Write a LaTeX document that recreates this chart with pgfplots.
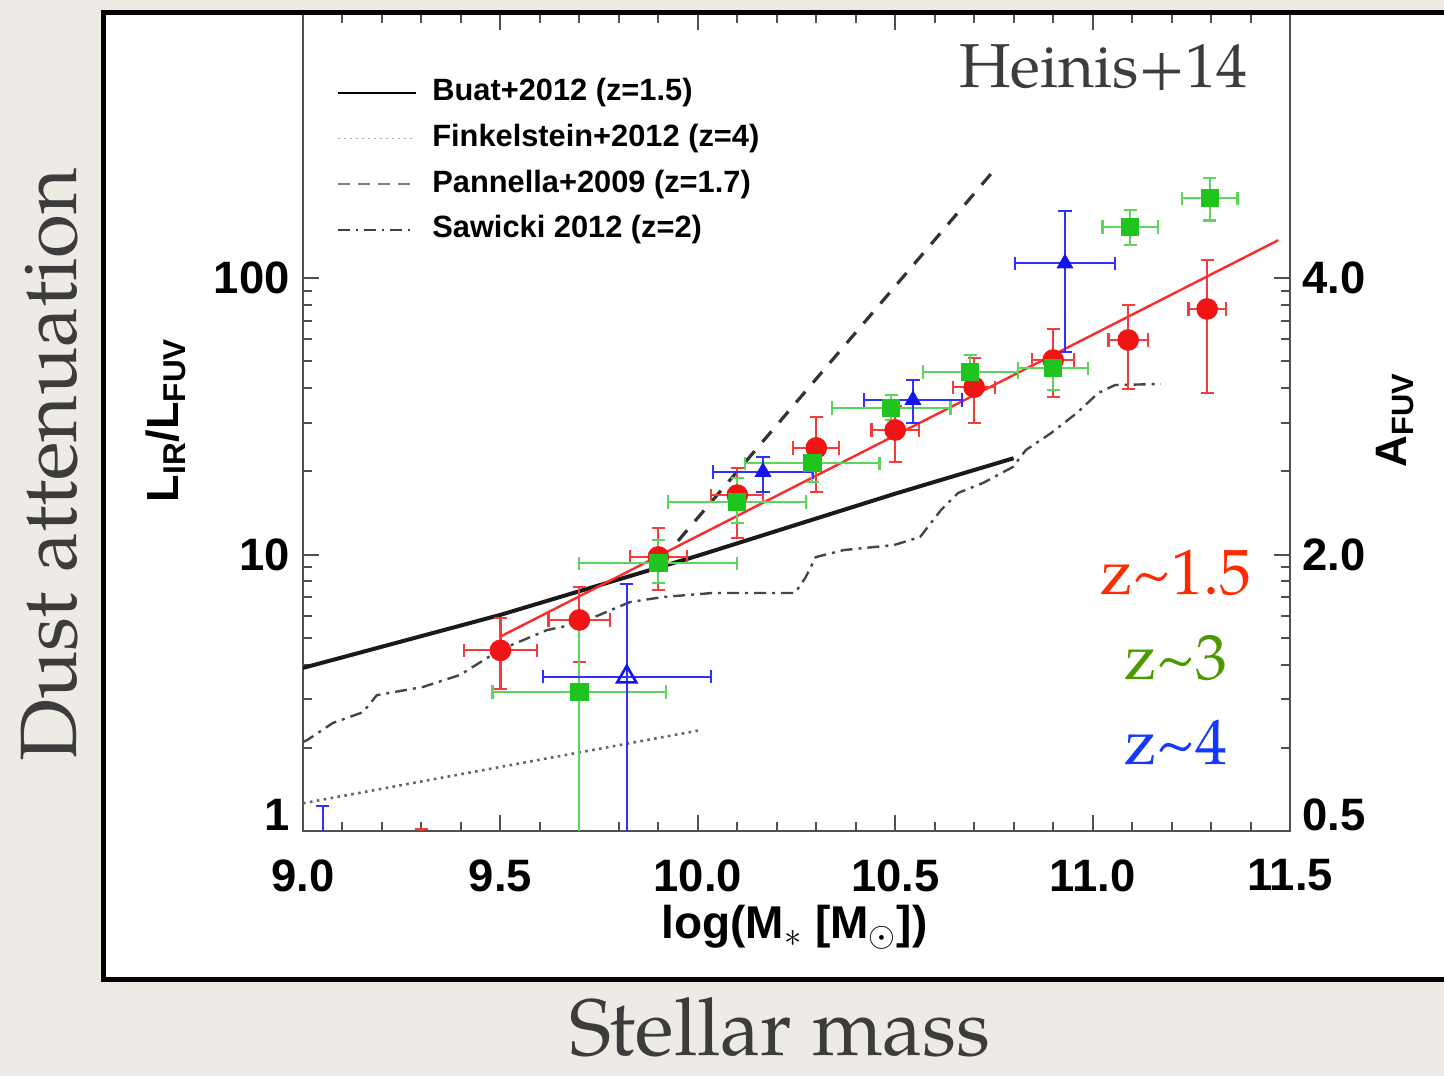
\documentclass[border=0pt]{standalone}
\usepackage{pgfplots}
\usepackage{pgfplotstable}
\pgfplotsset{compat=1.18}
\usepackage{fontspec}
\setmainfont{TeX Gyre Pagella}
\newfontfamily\hv{Liberation Sans}

\definecolor{bgc}{HTML}{EEEBE6}
\definecolor{axc}{HTML}{505050}
\definecolor{rpt}{HTML}{F01414}
\definecolor{rbar}{HTML}{F43C3C}
\definecolor{gpt}{HTML}{1FC41F}
\definecolor{gbar}{HTML}{5AD65A}
\definecolor{bpt}{HTML}{1414F0}
\definecolor{bbar}{HTML}{3030FF}
\definecolor{zred}{HTML}{FF2A00}
\definecolor{zgreen}{HTML}{4C9A00}
\definecolor{zblue}{HTML}{1438FF}
\definecolor{txt}{HTML}{3C3C3C}

% z~1.5 sample: x, y, x error, y error plus, y error minus
\pgfplotstableread{
x     y     ex     ep     em
9.50  4.50  0.093  1.40   1.24
9.70  5.80  0.078  1.83   1.72
9.90  9.80  0.072  2.70   2.36
10.10 16.4  0.066  4.10   4.90
10.30 24.3  0.058  7.10   7.50
10.50 28.2  0.060  6.20   6.60
10.70 40.3  0.053  11.1   10.4
10.90 50.5  0.053  14.9   13.4
11.09 59.7  0.050  20.1   20.0
11.29 77.3  0.047  38.7   38.9
}\redtab
% z~1.5 bin lying below the plotted range (only its upper bar reaches in)
\pgfplotstableread{
x     y     ex     ep     em
9.30  0.60  0.000  0.42   0.10
}\redlow

% z~3 sample
\pgfplotstableread{
x      y      ex     ep     em
9.90   9.31   0.200  2.00   1.42
10.10  15.5   0.175  3.40   2.50
10.29  21.4   0.170  3.50   3.10
10.49  33.9   0.150  3.80   3.20
10.69  45.7   0.120  7.00   6.40
10.90  47.2   0.088  6.80   7.90
11.095 152.9  0.070  23.0   21.0
11.297 194.6  0.070  35.0   33.0
}\greentab
% z~3 bin whose lower bar runs off the bottom
\pgfplotstableread{
x      y      ex     ep     em
9.70   3.18   0.220  3.02   2.78
}\greenlow

% z~4 sample (filled triangles)
\pgfplotstableread{
x      y      ex     ep     em
10.165 19.9   0.127  2.60   3.10
10.545 36.2   0.125  6.60   6.30
10.93  113.0  0.127  62.0   59.0
}\bluetab
% z~4 bin below the plotted range
\pgfplotstableread{
x      y      ex     ep     em
9.05   0.60   0.000  0.63   0.10
}\bluelow
% z~4 open triangle
\pgfplotstableread{
x      y      ex     ep     em
9.82   3.61   0.213  4.21   3.30
}\blueopen

\pgfplotsset{
  ebars/.style={only marks,
    error bars/.cd, x dir=both, x explicit, y dir=both, y explicit,
    error bar style={#1, line width=1.1pt},
    error mark options={rotate=90, #1, mark size=3.3pt, line width=1.1pt}},
  ebarsup/.style={only marks,
    error bars/.cd, x dir=both, x explicit, y dir=plus, y explicit,
    error bar style={#1, line width=1.1pt},
    error mark options={rotate=90, #1, mark size=3.3pt, line width=1.1pt}},
  capup/.style={mark=none,
    error bars/.cd, y dir=plus, y explicit,
    error bar style={#1, line width=1.1pt},
    error mark options={rotate=90, #1, mark size=3.3pt, line width=1.1pt}},
  whisker/.style={mark=none,
    error bars/.cd, y dir=minus, y explicit, error mark=none,
    error bar style={#1, line width=1.1pt}},
}

\begin{document}
\begin{tikzpicture}
\path[use as bounding box] (0,0) rectangle (722pt,538pt);
\begin{scope}[x=0.5pt,y=-0.5pt,yshift=538pt]
  \fill[bgc] (0,0) rectangle (1444,1076);
  \fill[white] (103.5,12.5) rectangle (1470,979.5);
\end{scope}

\begin{axis}[
  at={(151.5pt,122.5pt)}, anchor=south west,
  scale only axis, width=493.5pt, height=408.4pt,
  xmin=9, xmax=11.5, ymin=1, ymax=900, ymode=log,
  xtick={9,9.5,10,10.5,11,11.5},
  xticklabels={9.0,9.5,10.0,10.5,11.0,11.5},
  minor x tick num=4,
  ytick={1,10,100},
  yticklabels={\raisebox{\height}{1},10,100},
  tick align=inside,
  major tick length=8pt, minor tick length=4.5pt,
  every tick/.style={color=axc, line width=1pt},
  axis line style={color=axc, line width=1.1pt},
  ticklabel style={font=\hv\bfseries\fontsize{22.7}{24}\selectfont, text=black},
  xticklabel style={anchor=north, inner sep=0pt, yshift=-14pt},
  yticklabel style={anchor=east, inner sep=0pt, xshift=-6.5pt},
  xlabel={log(M\textsubscript{$\ast$} [M\textsubscript{$\odot$}])},
  ylabel={L\textsubscript{IR}/L\textsubscript{FUV}},
  every axis x label/.style={at={(axis description cs:0.498,-0.118)}, anchor=center,
    font=\hv\bfseries\fontsize{23}{25}\selectfont},
  every axis y label/.style={at={(axis description cs:-0.1388,0.503)}, anchor=center,
    rotate=90, font=\hv\bfseries\fontsize{22.5}{25}\selectfont},
  legend style={at={(rel axis cs:0.0344,0.922)}, anchor=north west,
    draw=none, fill=none, inner sep=0pt, column sep=7.5pt, row sep=8.1pt,
    font=\hv\bfseries\fontsize{15.4}{17}\selectfont,
    nodes={inner sep=0pt, text height=11.3pt, text depth=3.4pt}},
  legend cell align=left,
  legend image code/.code={\draw[#1] (0pt,0pt) -- (39pt,0pt);},
]
% legend samples
\addlegendimage{black, line width=1pt}
\addlegendentry{Buat+2012 (z=1.5)}
\addlegendimage{gray!70, line width=0.8pt, dash pattern=on 1pt off 2pt}
\addlegendentry{Finkelstein+2012 (z=4)}
\addlegendimage{gray, line width=0.8pt, dash pattern=on 6pt off 4pt}
\addlegendentry{Pannella+2009 (z=1.7)}
\addlegendimage{darkgray, line width=0.8pt, dash pattern=on 6pt off 3pt on 1pt off 3pt}
\addlegendentry{Sawicki 2012 (z=2)}

% literature relations
\addplot[forget plot, color={rgb,255:red,26;green,26;blue,26}, line width=2pt]
  coordinates {(9.0,3.89) (9.5,6.05) (10.0,9.9) (10.5,16.6) (10.8,22.3)};
\addplot[forget plot, color={rgb,255:red,100;green,100;blue,100}, line width=1.3pt,
  dash pattern=on 1.3pt off 2.2pt]
  coordinates {(9.0,1.26) (10.01,2.32)};
\addplot[forget plot, color={rgb,255:red,51;green,51;blue,51}, line width=1.6pt,
  dash pattern=on 7pt off 6pt]
  coordinates {(9.95,11.2) (10.75,245)};
\addplot[forget plot, color={rgb,255:red,70;green,70;blue,70}, line width=1.2pt,
  dash pattern=on 6pt off 3pt on 1.5pt off 3pt]
  coordinates {
  (9.000,2.10) (9.010,2.13) (9.076,2.46) (9.152,2.69) (9.187,3.10)
  (9.304,3.32) (9.398,3.67) (9.499,4.52) (9.618,5.33) (9.702,5.65)
  (9.828,6.73) (9.912,7.02) (10.038,7.26) (10.246,7.26) (10.272,8.22)
  (10.299,9.79) (10.370,10.38) (10.497,10.82) (10.563,11.57) (10.616,14.49)
  (10.659,16.69) (10.722,18.14) (10.798,20.73) (10.831,23.88) (10.895,27.50)
  (10.960,32.50) (11.014,38.38) (11.057,41.03) (11.173,41.37)};

% z~1.5 fit
\addplot[forget plot, color={rgb,255:red,255;green,42;blue,42}, line width=1.2pt]
  coordinates {(9.5,5.05) (11.47,137)};

% measurements
\addplot[forget plot, capup=rbar] table[x=x, y=y,
    y error plus=ep, y error minus=em] {\redlow};
\addplot[forget plot, mark=*, mark size=5.2pt, mark options={draw=rpt, fill=rpt},
  ebars=rbar] table[x=x, y=y, x error plus=ex, x error minus=ex,
    y error plus=ep, y error minus=em] {\redtab};

\addplot[forget plot, whisker=gbar] table[x=x, y=y,
    y error plus=ep, y error minus=em] {\greenlow};
\addplot[forget plot, mark=square*, mark size=4.3pt, mark options={draw=gpt, fill=gpt},
  ebarsup=gbar] table[x=x, y=y, x error plus=ex, x error minus=ex,
    y error plus=ep, y error minus=em] {\greenlow};
\addplot[forget plot, mark=square*, mark size=4.3pt, mark options={draw=gpt, fill=gpt},
  ebars=gbar] table[x=x, y=y, x error plus=ex, x error minus=ex,
    y error plus=ep, y error minus=em] {\greentab};

\addplot[forget plot, capup=bbar] table[x=x, y=y,
    y error plus=ep, y error minus=em] {\bluelow};
\addplot[forget plot, whisker=bbar] table[x=x, y=y,
    y error plus=ep, y error minus=em] {\blueopen};
\addplot[forget plot, mark=triangle, mark size=5.5pt,
  mark options={draw=bpt, fill=white, line width=1.3pt},
  ebarsup=bbar] table[x=x, y=y, x error plus=ex, x error minus=ex,
    y error plus=ep, y error minus=em] {\blueopen};
\addplot[forget plot, mark=triangle*, mark size=4.5pt, mark options={draw=bpt, fill=bpt},
  ebars=bbar] table[x=x, y=y, x error plus=ex, x error minus=ex,
    y error plus=ep, y error minus=em] {\bluetab};
\end{axis}

% right-hand A_FUV scale
\begin{axis}[
  at={(151.5pt,122.5pt)}, anchor=south west,
  scale only axis, width=493.5pt, height=408.4pt,
  xmin=9, xmax=11.5, ymin=1, ymax=900, ymode=log,
  axis x line=none, axis y line*=right,
  y axis line style={draw=none},
  ytick={1,10,100},
  yticklabels={\raisebox{\height}{0.5},2.0,4.0},
  yminorticks=false,
  major tick length=0pt,
  ytick style={draw=none},
  yticklabel style={anchor=west, inner sep=0pt, xshift=6pt,
    font=\hv\bfseries\fontsize{22.7}{24}\selectfont, text=black},
  ylabel={A\textsubscript{FUV}},
  every axis y label/.style={at={(axis description cs:1.1064,0.503)}, anchor=center,
    rotate=90, font=\hv\bfseries\fontsize{22}{25}\selectfont},
]
\addplot[draw=none, forget plot] coordinates {(9,1) (11.5,900)};
\end{axis}

\begin{scope}[x=0.5pt,y=-0.5pt,yshift=538pt]
  \draw[line width=2.5pt, black] (103.5,12.5) rectangle (1470,979.5);
  \node[anchor=base east, inner sep=0pt, text=txt, font=\fontsize{31}{31}\selectfont]
    at (1248,88) {Heinis+14};
  \node[anchor=base, inner sep=0pt, text=zred, font=\fontsize{32}{32}\selectfont]
    at (1176,595) {z\textasciitilde 1.5};
  \node[anchor=base, inner sep=0pt, text=zgreen, font=\fontsize{32}{32}\selectfont]
    at (1176,680) {z\textasciitilde 3};
  \node[anchor=base, inner sep=0pt, text=zblue, font=\fontsize{32}{32}\selectfont]
    at (1176,765) {z\textasciitilde 4};
  \node[rotate=90, inner sep=0pt, text=txt, font=\fontsize{40}{40}\selectfont]
    at (50,465) {Dust attenuation};
  \node[anchor=base, inner sep=0pt, text=txt, font=\fontsize{40}{40}\selectfont]
    at (780,1055) {Stellar mass};
\end{scope}
\end{tikzpicture}
\end{document}
